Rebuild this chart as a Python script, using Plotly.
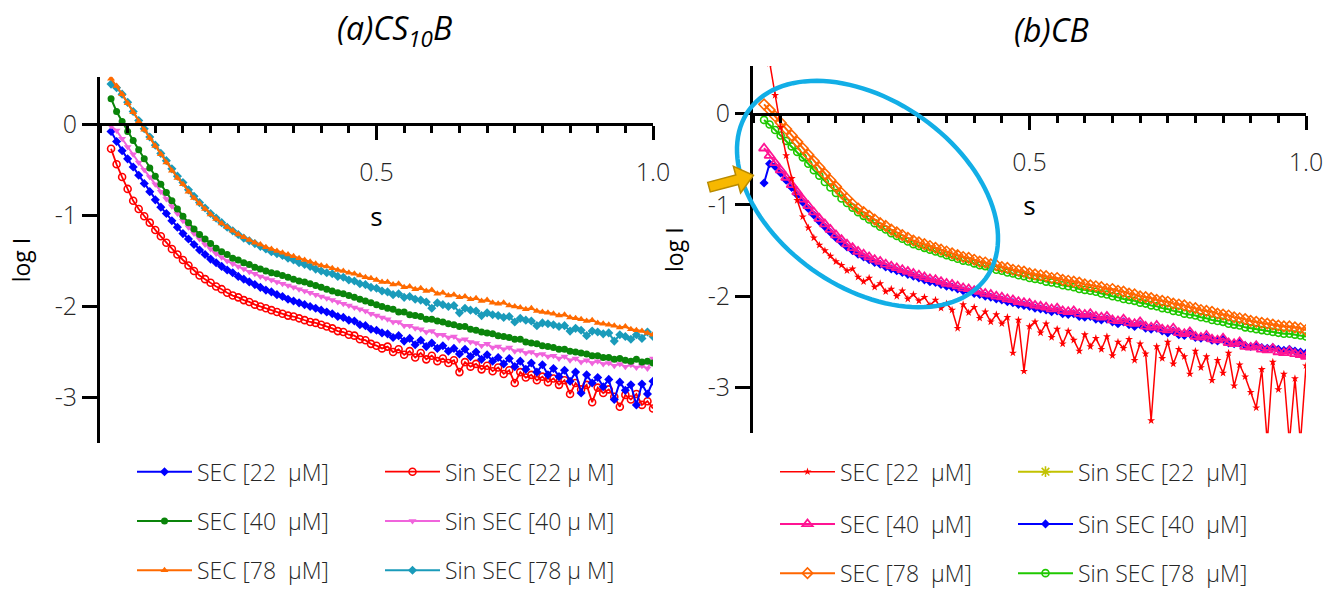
import numpy as np
import plotly.graph_objects as go

W, H = 1335, 595

# ---------------- data ----------------
S = [0.02, 0.03, 0.04, 0.05, 0.06, 0.07, 0.08, 0.09, 0.10, 0.11,
     0.12, 0.13, 0.14, 0.15, 0.16, 0.17, 0.18, 0.19, 0.20, 0.21,
     0.22, 0.23, 0.24, 0.25, 0.26, 0.27, 0.28, 0.29, 0.30, 0.31,
     0.32, 0.33, 0.34, 0.35, 0.36, 0.37, 0.38, 0.39, 0.40, 0.41,
     0.42, 0.43, 0.44, 0.45, 0.46, 0.47, 0.48, 0.49, 0.50, 0.51,
     0.52, 0.53, 0.54, 0.55, 0.56, 0.57, 0.58, 0.59, 0.60, 0.61,
     0.62, 0.63, 0.64, 0.65, 0.66, 0.67, 0.68, 0.69, 0.70, 0.71,
     0.72, 0.73, 0.74, 0.75, 0.76, 0.77, 0.78, 0.79, 0.80, 0.81,
     0.82, 0.83, 0.84, 0.85, 0.86, 0.87, 0.88, 0.89, 0.90, 0.91,
     0.92, 0.93, 0.94, 0.95, 0.96, 0.97, 0.98, 0.99, 1.00]

# (a) CS10B
a_sec22 = [-0.08, -0.19, -0.29, -0.38, -0.47, -0.56, -0.65, -0.74, -0.83, -0.91,
           -0.98, -1.06, -1.13, -1.20, -1.26, -1.32, -1.38, -1.43, -1.48, -1.52,
           -1.56, -1.60, -1.63, -1.67, -1.70, -1.73, -1.76, -1.79, -1.82, -1.84,
           -1.87, -1.89, -1.92, -1.94, -1.96, -1.98, -2.00, -2.02, -2.04, -2.06,
           -2.08, -2.11, -2.12, -2.15, -2.16, -2.20, -2.21, -2.25, -2.26, -2.29,
           -2.30, -2.34, -2.32, -2.38, -2.35, -2.42, -2.37, -2.44, -2.40, -2.46,
           -2.43, -2.49, -2.46, -2.52, -2.47, -2.55, -2.50, -2.58, -2.53, -2.60,
           -2.56, -2.63, -2.57, -2.66, -2.60, -2.69, -2.62, -2.72, -2.64, -2.75,
           -2.68, -2.77, -2.70, -2.82, -2.72, -2.95, -2.75, -2.84, -2.78, -2.88,
           -2.80, -3.02, -2.83, -2.92, -2.86, -3.08, -2.85, -2.96, -2.82]
a_sec40 = [0.28, 0.14, 0.03, -0.08, -0.18, -0.28, -0.38, -0.48, -0.57, -0.66,
           -0.75, -0.84, -0.93, -1.01, -1.08, -1.15, -1.21, -1.26, -1.31, -1.36,
           -1.40, -1.43, -1.47, -1.49, -1.52, -1.54, -1.57, -1.59, -1.61, -1.63,
           -1.64, -1.66, -1.68, -1.70, -1.72, -1.73, -1.75, -1.77, -1.79, -1.81,
           -1.83, -1.85, -1.86, -1.88, -1.90, -1.92, -1.94, -1.96, -1.98, -2.00,
           -2.02, -2.03, -2.06, -2.06, -2.09, -2.10, -2.11, -2.14, -2.14, -2.16,
           -2.17, -2.19, -2.20, -2.22, -2.22, -2.25, -2.26, -2.28, -2.29, -2.30,
           -2.32, -2.33, -2.34, -2.36, -2.36, -2.39, -2.40, -2.41, -2.43, -2.44,
           -2.45, -2.47, -2.47, -2.49, -2.50, -2.51, -2.52, -2.54, -2.54, -2.56,
           -2.56, -2.58, -2.57, -2.59, -2.60, -2.58, -2.61, -2.60, -2.62]
a_sec78 = [0.50, 0.42, 0.33, 0.23, 0.13, 0.03, -0.06, -0.15, -0.24, -0.33,
           -0.42, -0.51, -0.59, -0.66, -0.74, -0.81, -0.87, -0.93, -0.99, -1.04,
           -1.09, -1.13, -1.17, -1.21, -1.24, -1.27, -1.30, -1.32, -1.35, -1.37,
           -1.39, -1.41, -1.43, -1.45, -1.47, -1.49, -1.51, -1.53, -1.55, -1.56,
           -1.58, -1.60, -1.61, -1.63, -1.64, -1.66, -1.68, -1.69, -1.71, -1.73,
           -1.73, -1.76, -1.75, -1.79, -1.78, -1.81, -1.80, -1.83, -1.82, -1.86,
           -1.85, -1.88, -1.87, -1.90, -1.89, -1.92, -1.91, -1.94, -1.93, -1.96,
           -1.97, -1.96, -1.99, -2.00, -2.01, -2.03, -2.02, -2.05, -2.06, -2.07,
           -2.08, -2.10, -2.09, -2.12, -2.13, -2.14, -2.16, -2.15, -2.18, -2.19,
           -2.20, -2.21, -2.23, -2.22, -2.25, -2.26, -2.27, -2.29, -2.31]
a_sin22 = [-0.27, -0.44, -0.58, -0.71, -0.84, -0.93, -1.01, -1.08, -1.16, -1.23,
           -1.30, -1.37, -1.43, -1.49, -1.55, -1.61, -1.66, -1.70, -1.74, -1.78,
           -1.81, -1.85, -1.88, -1.90, -1.93, -1.95, -1.98, -2.00, -2.02, -2.04,
           -2.06, -2.08, -2.10, -2.11, -2.13, -2.15, -2.17, -2.18, -2.20, -2.22,
           -2.24, -2.27, -2.28, -2.31, -2.32, -2.36, -2.37, -2.41, -2.43, -2.46,
           -2.44, -2.50, -2.47, -2.53, -2.49, -2.56, -2.51, -2.58, -2.54, -2.60,
           -2.57, -2.62, -2.59, -2.72, -2.61, -2.66, -2.63, -2.69, -2.65, -2.71,
           -2.67, -2.74, -2.70, -2.84, -2.72, -2.78, -2.75, -2.81, -2.77, -2.83,
           -2.79, -2.86, -2.81, -2.96, -2.84, -2.91, -2.86, -3.05, -2.89, -2.95,
           -2.91, -2.99, -3.10, -2.97, -3.02, -2.96, -3.08, -3.04, -3.12]
a_sin40 = [-0.02, -0.07, -0.16, -0.25, -0.33, -0.42, -0.50, -0.58, -0.66, -0.74,
           -0.82, -0.90, -0.98, -1.06, -1.13, -1.20, -1.26, -1.32, -1.37, -1.42,
           -1.46, -1.50, -1.53, -1.56, -1.59, -1.62, -1.64, -1.67, -1.69, -1.71,
           -1.73, -1.75, -1.77, -1.79, -1.81, -1.83, -1.85, -1.87, -1.89, -1.91,
           -1.93, -1.95, -1.97, -1.99, -2.01, -2.03, -2.05, -2.08, -2.10, -2.12,
           -2.14, -2.17, -2.17, -2.21, -2.21, -2.24, -2.25, -2.28, -2.27, -2.31,
           -2.31, -2.34, -2.33, -2.37, -2.36, -2.39, -2.40, -2.43, -2.41, -2.45,
           -2.44, -2.47, -2.45, -2.49, -2.48, -2.51, -2.50, -2.53, -2.52, -2.55,
           -2.54, -2.57, -2.55, -2.59, -2.57, -2.61, -2.59, -2.62, -2.60, -2.63,
           -2.62, -2.65, -2.63, -2.66, -2.64, -2.67, -2.65, -2.68, -2.57]
a_sin78 = [0.44, 0.40, 0.33, 0.24, 0.14, 0.04, -0.05, -0.14, -0.23, -0.32,
           -0.40, -0.49, -0.57, -0.64, -0.72, -0.79, -0.86, -0.92, -0.98, -1.03,
           -1.08, -1.13, -1.17, -1.21, -1.25, -1.28, -1.31, -1.34, -1.37, -1.40,
           -1.42, -1.44, -1.47, -1.49, -1.52, -1.54, -1.56, -1.59, -1.61, -1.63,
           -1.64, -1.67, -1.68, -1.71, -1.72, -1.75, -1.76, -1.79, -1.80, -1.83,
           -1.84, -1.87, -1.86, -1.90, -1.89, -1.92, -1.93, -1.95, -2.02, -1.96,
           -1.98, -2.00, -1.99, -2.07, -2.02, -2.04, -2.05, -2.10, -2.07, -2.09,
           -2.10, -2.12, -2.11, -2.17, -2.13, -2.15, -2.16, -2.21, -2.18, -2.19,
           -2.20, -2.22, -2.21, -2.27, -2.24, -2.26, -2.32, -2.27, -2.28, -2.30,
           -2.29, -2.38, -2.31, -2.33, -2.36, -2.31, -2.35, -2.28, -2.33]

# (b) CB
b_sec22 = [0.92, 0.55, 0.20, -0.15, -0.46, -0.71, -0.95, -1.13, -1.25, -1.36,
           -1.44, -1.50, -1.56, -1.62, -1.66, -1.72, -1.70, -1.79, -1.84, -1.80,
           -1.90, -1.86, -1.95, -1.92, -2.00, -1.94, -2.03, -1.98, -2.05, -2.01,
           -2.10, -2.04, -2.13, -2.08, -2.15, -2.35, -2.09, -2.18, -2.12, -2.24,
           -2.17, -2.28, -2.20, -2.30, -2.23, -2.62, -2.26, -2.82, -2.33, -2.28,
           -2.40, -2.30, -2.45, -2.36, -2.52, -2.38, -2.48, -2.60, -2.42, -2.55,
           -2.46, -2.58, -2.44, -2.65, -2.50, -2.57, -2.47, -2.70, -2.52, -2.63,
           -3.36, -2.55, -2.68, -2.50, -2.74, -2.58, -2.66, -2.85, -2.60, -2.78,
           -2.66, -2.92, -2.70, -2.84, -2.62, -2.98, -2.75, -2.88, -3.05, -3.22,
           -2.80, -3.60, -2.72, -3.02, -2.85, -3.60, -2.90, -3.60, -2.76]
b_sec40 = [-0.38, -0.46, -0.54, -0.62, -0.70, -0.78, -0.86, -0.94, -1.01, -1.08,
           -1.15, -1.21, -1.27, -1.33, -1.38, -1.43, -1.47, -1.51, -1.54, -1.57,
           -1.60, -1.62, -1.65, -1.67, -1.69, -1.71, -1.73, -1.75, -1.77, -1.79,
           -1.81, -1.82, -1.84, -1.86, -1.87, -1.89, -1.91, -1.92, -1.94, -1.95,
           -1.97, -1.98, -2.00, -2.01, -2.03, -2.04, -2.06, -2.07, -2.08, -2.10,
           -2.11, -2.12, -2.14, -2.13, -2.16, -2.17, -2.16, -2.19, -2.20, -2.19,
           -2.22, -2.23, -2.22, -2.26, -2.27, -2.25, -2.29, -2.30, -2.28, -2.33,
           -2.34, -2.32, -2.36, -2.37, -2.35, -2.40, -2.41, -2.39, -2.44, -2.45,
           -2.43, -2.47, -2.48, -2.46, -2.51, -2.52, -2.50, -2.55, -2.56, -2.54,
           -2.58, -2.59, -2.57, -2.61, -2.62, -2.60, -2.63, -2.64, -2.66]
b_sec78 = [0.10, 0.04, -0.03, -0.10, -0.17, -0.24, -0.31, -0.38, -0.45, -0.52,
           -0.59, -0.66, -0.73, -0.80, -0.87, -0.93, -0.99, -1.04, -1.08, -1.12,
           -1.16, -1.20, -1.23, -1.27, -1.30, -1.33, -1.36, -1.39, -1.41, -1.43,
           -1.45, -1.47, -1.49, -1.51, -1.53, -1.55, -1.57, -1.58, -1.60, -1.62,
           -1.63, -1.65, -1.66, -1.68, -1.69, -1.71, -1.72, -1.73, -1.75, -1.76,
           -1.77, -1.78, -1.80, -1.80, -1.82, -1.83, -1.84, -1.85, -1.87, -1.88,
           -1.89, -1.90, -1.92, -1.92, -1.94, -1.95, -1.97, -1.98, -2.00, -2.01,
           -2.02, -2.04, -2.05, -2.06, -2.08, -2.09, -2.10, -2.12, -2.13, -2.15,
           -2.16, -2.17, -2.19, -2.20, -2.21, -2.23, -2.24, -2.25, -2.27, -2.28,
           -2.29, -2.30, -2.31, -2.32, -2.33, -2.33, -2.34, -2.35, -2.37]
b_sin22 = []  # not visible in the plot area, legend entry only
b_sin40 = [-0.76, -0.55, -0.58, -0.65, -0.73, -0.81, -0.89, -0.97, -1.04, -1.11,
           -1.18, -1.24, -1.30, -1.36, -1.41, -1.46, -1.50, -1.54, -1.57, -1.60,
           -1.63, -1.65, -1.68, -1.70, -1.72, -1.74, -1.76, -1.78, -1.80, -1.82,
           -1.84, -1.85, -1.87, -1.89, -1.90, -1.92, -1.94, -1.95, -1.97, -1.98,
           -2.00, -2.01, -2.03, -2.04, -2.06, -2.07, -2.09, -2.10, -2.11, -2.13,
           -2.14, -2.15, -2.17, -2.16, -2.19, -2.20, -2.19, -2.22, -2.23, -2.22,
           -2.25, -2.26, -2.25, -2.28, -2.30, -2.28, -2.31, -2.33, -2.31, -2.35,
           -2.36, -2.35, -2.38, -2.40, -2.38, -2.42, -2.43, -2.41, -2.45, -2.46,
           -2.45, -2.48, -2.49, -2.47, -2.51, -2.52, -2.51, -2.54, -2.55, -2.54,
           -2.56, -2.57, -2.56, -2.58, -2.59, -2.58, -2.60, -2.61, -2.62]
b_sin78 = [-0.07, -0.12, -0.18, -0.24, -0.30, -0.36, -0.42, -0.48, -0.55, -0.62,
           -0.68, -0.75, -0.81, -0.87, -0.93, -0.98, -1.03, -1.08, -1.12, -1.16,
           -1.20, -1.24, -1.27, -1.31, -1.34, -1.37, -1.40, -1.43, -1.45, -1.47,
           -1.49, -1.51, -1.53, -1.55, -1.57, -1.59, -1.61, -1.62, -1.64, -1.66,
           -1.67, -1.69, -1.71, -1.72, -1.74, -1.75, -1.77, -1.78, -1.80, -1.81,
           -1.82, -1.84, -1.85, -1.86, -1.88, -1.89, -1.90, -1.92, -1.93, -1.94,
           -1.95, -1.97, -1.98, -2.00, -2.01, -2.03, -2.04, -2.05, -2.07, -2.08,
           -2.10, -2.11, -2.13, -2.14, -2.16, -2.17, -2.19, -2.20, -2.21, -2.23,
           -2.24, -2.26, -2.27, -2.28, -2.30, -2.31, -2.32, -2.34, -2.35, -2.36,
           -2.37, -2.38, -2.39, -2.40, -2.41, -2.41, -2.42, -2.43, -2.44]

X_TICKS = [0.5, 1.0]
X_TICKTEXT = ["0.5", "1.0"]
Y_TICKS = [0, -1, -2, -3]
Y_TICKTEXT = ["0", "-1", "-2", "-3"]
Y_RANGE = [-3.5, 0.52]

# ---------------- layout geometry (pixels) ----------------
FONT = "Open Sans"
TXT = "#262626"

def px_x(px):
    return px / W

def px_y(py):
    return 1 - py / H

panels = {
    "a": dict(x0=100, x1=653, y0=78, y1=450),
    "b": dict(x0=753, x1=1306, y0=67, y1=440),
}

fig = go.Figure()

legend_slots = {}
lcount = [0]

def add(xs, ys, name, color, symbol, size, panel, legpos, lw=2.0, mlw=0.0, mfill=None):
    n = min(len(xs), len(ys))
    lcount[0] += 1
    lid = "legend" if lcount[0] == 1 else "legend%d" % lcount[0]
    legend_slots[lid] = legpos
    xa, ya = ("x", "y") if panel == "a" else ("x2", "y2")
    if n == 0:
        xv, yv = [None], [None]
    else:
        xv, yv = xs[:n], ys[:n]
    fig.add_trace(go.Scatter(
        x=xv, y=yv, name=name, mode="lines+markers",
        line=dict(color=color, width=lw),
        marker=dict(symbol=symbol, size=size, color=mfill or color,
                    line=dict(color=color, width=mlw)),
        xaxis=xa, yaxis=ya, legend=lid, showlegend=True,
    ))

# legend slot positions: (x of symbol start, y centre)
LA1, LA2 = 132, 380
LB1, LB2 = 775, 1013
RA = [479, 529, 579]
RB = [479, 532, 582]

# panel (a) - drawing order
add(S, a_sin22, "Sin SEC [22 μ M]", "#FF0000", "circle-open", 7, "a", (LA2, RA[0]), lw=1.8, mlw=1.6)
add(S, a_sec22, "SEC [22  μM]", "#0000FF", "diamond", 7, "a", (LA1, RA[0]))
add(S, a_sin40, "Sin SEC [40 μ M]", "#F064DC", "triangle-down", 7, "a", (LA2, RA[1]))
add(S, a_sec40, "SEC [40  μM]", "#0A840A", "circle", 7, "a", (LA1, RA[1]))
add(S, a_sin78, "Sin SEC [78 μ M]", "#1A9BBA", "diamond", 7, "a", (LA2, RA[2]))
add(S, a_sec78, "SEC [78  μM]", "#FF6A00", "triangle-up", 7, "a", (LA1, RA[2]))

# panel (b)
add(S, b_sin22, "Sin SEC [22  μM]", "#C2C200", "asterisk-open", 9, "b", (LB2, RB[0]), mlw=1.6)
add(S, b_sin78, "Sin SEC [78  μM]", "#1FC800", "circle-open", 7, "b", (LB2, RB[2]), mlw=1.6)
add(S, b_sec78, "SEC [78  μM]", "#FF6600", "diamond-open", 8, "b", (LB1, RB[2]), mlw=1.6)
add(S, b_sin40, "Sin SEC [40  μM]", "#0000FF", "diamond", 7, "b", (LB2, RB[1]))
add(S, b_sec40, "SEC [40  μM]", "#FF1493", "triangle-up-open", 9, "b", (LB1, RB[1]), mlw=1.8)
add(S, b_sec22, "SEC [22  μM]", "#FF0000", "star", 6, "b", (LB1, RB[0]), lw=1.5)

legends = {}
for lid, (lx, ly) in legend_slots.items():
    legends[lid] = dict(
        x=px_x(lx), y=px_y(ly), xanchor="left", yanchor="middle",
        orientation="v", bgcolor="rgba(0,0,0,0)", borderwidth=0,
        itemwidth=55, font=dict(family=FONT, size=23, color=TXT, weight=300),
    )

def xaxis_for(p):
    g = panels[p]
    yd0, yd1 = px_y(g["y1"]), px_y(g["y0"])
    pos = yd0 + (0 - Y_RANGE[0]) / (Y_RANGE[1] - Y_RANGE[0]) * (yd1 - yd0)
    return dict(
        domain=[px_x(g["x0"]), px_x(g["x1"])], range=[0, 1.0],
        anchor="free", position=pos, side="bottom",
        showline=True, linewidth=3, linecolor="black", mirror=False,
        showgrid=False, zeroline=False,
        tickmode="array", tickvals=X_TICKS, ticktext=X_TICKTEXT,
        ticks="outside", ticklen=14, tickwidth=3, tickcolor="black",
        ticklabelstandoff=11,
        minor=dict(tickmode="linear", tick0=0, dtick=0.05, ticks="outside",
                   ticklen=7, tickwidth=3, tickcolor="black", showgrid=False),
        tickfont=dict(family=FONT, size=25, color=TXT, weight=300),
        title=dict(text="s", standoff=20, font=dict(family=FONT, size=26, color="black")),
        automargin=False, fixedrange=True,
    )

def yaxis_for(p, anchor):
    g = panels[p]
    return dict(
        domain=[px_y(g["y1"]), px_y(g["y0"])], range=Y_RANGE,
        anchor=anchor, side="left",
        showline=True, linewidth=3, linecolor="black",
        showgrid=False, zeroline=False,
        tickmode="array", tickvals=Y_TICKS, ticktext=Y_TICKTEXT,
        ticks="outside", ticklen=15, tickwidth=3, tickcolor="black",
        ticklabelstandoff=0,
        tickfont=dict(family=FONT, size=25, color=TXT, weight=300),
        title=dict(text="log I", standoff=18, font=dict(family=FONT, size=23, color="black")),
        automargin=False, fixedrange=True,
    )

# ---------------- annotation shapes on panel (b) ----------------
cx, cy, ea, eb, th = 867.5, 197.0, 146.0, 94.5, np.deg2rad(36)
t = np.linspace(0, 2 * np.pi, 121)
ex = cx + ea * np.cos(t) * np.cos(th) - eb * np.sin(t) * np.sin(th)
ey = cy + ea * np.cos(t) * np.sin(th) + eb * np.sin(t) * np.cos(th)
ell_path = "M " + " L ".join("%.5f,%.5f" % (px_x(a), px_y(b)) for a, b in zip(ex, ey)) + " Z"

tx, ty, ang = 709.0, 190.0, np.deg2rad(-15)
ux, uy = np.cos(ang), np.sin(ang)
wx, wy = -uy, ux
local = [(0, -5), (29, -5), (29, -14), (46, 0), (29, 14), (29, 5), (0, 5)]
arr = [(tx + a * ux + b * wx, ty + a * uy + b * wy) for a, b in local]
arr_path = "M " + " L ".join("%.5f,%.5f" % (px_x(a), px_y(b)) for a, b in arr) + " Z"

shapes = [
    dict(type="path", xref="paper", yref="paper", path=ell_path,
         line=dict(color="#12AEE6", width=4.5), fillcolor="rgba(0,0,0,0)", layer="above"),
    dict(type="path", xref="paper", yref="paper", path=arr_path,
         line=dict(color="#B88A00", width=1.5), fillcolor="#F7B800", layer="above"),
]

annotations = [
    dict(text="<i>(a)CS<sub>10</sub>B</i>", x=px_x(394), y=px_y(30), xref="paper", yref="paper",
         xanchor="center", yanchor="middle", showarrow=False,
         font=dict(family=FONT, size=32, color="black")),
    dict(text="<i>(b)CB</i>", x=px_x(1051), y=px_y(30), xref="paper", yref="paper",
         xanchor="center", yanchor="middle", showarrow=False,
         font=dict(family=FONT, size=32, color="black")),
]

fig.update_layout(
    width=W, height=H, autosize=False,
    margin=dict(l=0, r=0, t=0, b=0),
    paper_bgcolor="white", plot_bgcolor="white",
    font=dict(family=FONT, color=TXT),
    xaxis=xaxis_for("a"), yaxis=yaxis_for("a", "x"),
    xaxis2=xaxis_for("b"), yaxis2=yaxis_for("b", "x2"),
    shapes=shapes, annotations=annotations,
    **legends,
)

fig.write_html("out.html")
